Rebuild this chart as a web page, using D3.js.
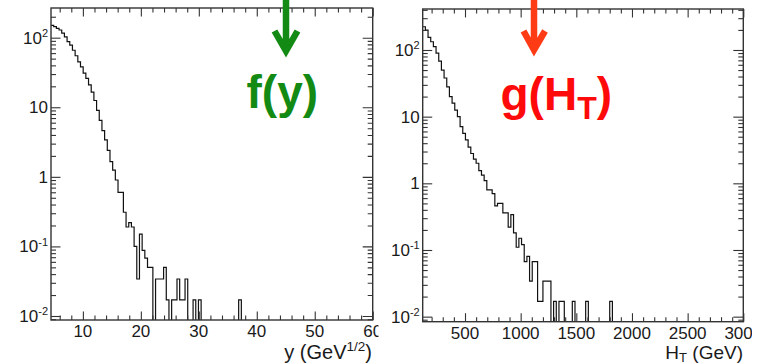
<!DOCTYPE html>
<html><head><meta charset="utf-8">
<script src="https://cdn.jsdelivr.net/npm/d3@7"></script>
<style>
body{margin:0;background:#fff}
svg{display:block}
text{font-family:"Liberation Sans",Arial,Helvetica,sans-serif}
</style>
</head><body>
<svg id="c" width="761" height="364"></svg>
<script>
// ---------- data ----------
const yTickValues = [0.01, 0.1, 1, 10, 100];
const yTickBase   = ["10", "10", "1", "10", "10"];
const yTickExp    = ["-2", "-1", "", "", "2"];

// f(y) histogram: 120 bins from 4.5 to 60 GeV^1/2
const fyBinLow = 4.5, fyBinWidth = 0.4625;
const fyValues = [
  150, 144, 136, 129, 116, 103, 88, 78, 66, 55,
  45, 38, 31, 26, 21, 16.5, 12.5, 9, 6.5, 4.6,
  3.4, 2.4, 1.65, 1.25, 0.9, 0.6, 0.6, 0.31, 0.19, 0.22,
  0.19, 0.1, 0.034, 0.15, 0.088, 0.068, 0.05, 0.05, 0, 0.034,
  0.034, 0.034, 0.05, 0.017, 0, 0.017, 0.017, 0.034, 0.017, 0.017,
  0.034, 0, 0, 0.017, 0, 0.017, 0, 0, 0, 0,
  0, 0, 0, 0, 0, 0, 0, 0, 0, 0,
  0.017, 0, 0, 0, 0, 0, 0, 0, 0, 0,
  0, 0, 0, 0, 0, 0, 0, 0, 0, 0,
  0, 0, 0, 0, 0, 0, 0, 0, 0, 0,
  0, 0, 0, 0, 0, 0, 0, 0, 0, 0,
  0, 0, 0, 0, 0, 0, 0, 0, 0, 0
];
const fyXTicks = [10, 20, 30, 40, 50, 60];
const fyXTickLabels = ["10", "20", "30", "40", "50", "60"];

// g(HT) histogram: 120 bins from 120 to 3000 GeV
const gBinLow = 120, gBinWidth = 24;
const gValues = [
  223, 199, 155, 133, 112, 90, 68, 50, 38, 28,
  20, 16, 12.5, 10, 7.1, 5.6, 4.5, 3.5, 2.8, 2.3,
  2.0, 1.55, 1.33, 1.1, 0.8, 0.8, 0.7, 0.46, 0.5, 0.5,
  0.36, 0.36, 0.22, 0.34, 0.18, 0.11, 0.15, 0.12, 0.067, 0.08,
  0.034, 0.067, 0.067, 0.017, 0.017, 0.034, 0.034, 0.034, 0, 0.017,
  0, 0.017, 0.017, 0, 0, 0, 0.017, 0, 0, 0,
  0, 0.017, 0, 0, 0, 0, 0, 0, 0, 0,
  0.017, 0, 0, 0, 0, 0, 0, 0, 0, 0,
  0, 0, 0, 0, 0, 0, 0, 0, 0, 0,
  0, 0, 0, 0, 0, 0, 0, 0, 0, 0,
  0, 0, 0, 0, 0, 0, 0, 0, 0, 0,
  0, 0, 0, 0, 0, 0, 0, 0, 0, 0
];
const gXTicks = [500, 1000, 1500, 2000, 2500, 3000];
const gXTickLabels = ["500", "1000", "1500", "2000", "2500", "3000"];

// ---------- drawing ----------
const svg = d3.select("#c");
svg.append("rect").attr("width", 761).attr("height", 364).attr("fill", "#fff");
const defs = svg.append("defs");

function drawPanel(cfg) {
  const clipId = "clip" + cfg.id, outerClip = "oclip" + cfg.id;
  defs.append("clipPath").attr("id", clipId).append("rect")
    .attr("x", cfg.x0).attr("y", cfg.y0).attr("width", cfg.x1 - cfg.x0).attr("height", cfg.y1 - cfg.y0);
  defs.append("clipPath").attr("id", outerClip).append("rect")
    .attr("x", 0).attr("y", 0).attr("width", cfg.clipRight).attr("height", 364);

  const g = svg.append("g").attr("clip-path", `url(#${outerClip})`);
  const x = d3.scaleLinear().domain(cfg.xDomain).range([cfg.x0, cfg.x1]);
  const y = d3.scaleLog().domain(cfg.yDomain).range([cfg.y1, cfg.y0]);

  // histogram
  const n = cfg.values.length;
  const pts = cfg.values.map((v, i) => [cfg.binLow + i * cfg.binWidth, v]);
  pts.push([cfg.binLow + n * cfg.binWidth, cfg.values[n - 1]]);
  const line = d3.line()
    .x(d => x(d[0]))
    .y(d => d[1] > 0 ? y(d[1]) : cfg.y1 + 1)
    .curve(d3.curveStepAfter);
  g.append("path").attr("d", line(pts))
    .attr("fill", "none").attr("stroke", "#111").attr("stroke-width", 1.2)
    .attr("clip-path", `url(#${clipId})`);

  // ticks
  const minorX = d3.range(Math.ceil(cfg.xDomain[0] / cfg.minorStep) * cfg.minorStep, cfg.xDomain[1] + 1e-9, cfg.minorStep)
    .filter(v => !cfg.xTicks.some(t => Math.abs(t - v) < 1e-9));
  const minorY = [];
  for (let e = -3; e <= 3; e++) for (let k = 2; k <= 9; k++) {
    const v = k * Math.pow(10, e);
    if (v > cfg.yDomain[0] && v < cfg.yDomain[1]) minorY.push(v);
  }
  const style = sel => {
    sel.select(".domain").remove();
    sel.selectAll("line").attr("stroke", "#333").attr("stroke-width", 1.1);
  };
  const addAxis = (axis, tx, ty) => g.append("g").attr("transform", `translate(${tx},${ty})`).call(axis).call(style);

  addAxis(d3.axisBottom(x).tickValues(cfg.xTicks).tickSize(-8.5).tickFormat(""), 0, cfg.y1);
  addAxis(d3.axisBottom(x).tickValues(minorX).tickSize(-4.5).tickFormat(""), 0, cfg.y1);
  addAxis(d3.axisTop(x).tickValues(cfg.xTicks).tickSize(-8.5).tickFormat(""), 0, cfg.y0);
  addAxis(d3.axisTop(x).tickValues(minorX).tickSize(-4.5).tickFormat(""), 0, cfg.y0);
  addAxis(d3.axisLeft(y).tickValues(yTickValues).tickSize(-9.5).tickFormat(""), cfg.x0, 0);
  addAxis(d3.axisLeft(y).tickValues(minorY).tickSize(-5).tickFormat(""), cfg.x0, 0);
  addAxis(d3.axisRight(y).tickValues(yTickValues).tickSize(-10).tickFormat(""), cfg.x1, 0);
  addAxis(d3.axisRight(y).tickValues(minorY).tickSize(-5).tickFormat(""), cfg.x1, 0);

  // frame
  g.append("rect").attr("x", cfg.x0).attr("y", cfg.y0)
    .attr("width", cfg.x1 - cfg.x0).attr("height", cfg.y1 - cfg.y0)
    .attr("fill", "none").attr("stroke", "#333").attr("stroke-width", 1.4);

  // y tick labels
  yTickValues.forEach((v, i) => {
    const t = g.append("text").attr("x", cfg.x0 - 3).attr("y", y(v) + 6)
      .attr("text-anchor", "end").attr("font-size", 17).attr("fill", "#1a1a1a");
    t.append("tspan").text(yTickBase[i]);
    if (yTickExp[i]) t.append("tspan").attr("font-size", 11).attr("dy", -6.5).text(yTickExp[i]);
  });
  // x tick labels
  cfg.xTicks.forEach((v, i) => {
    g.append("text").attr("x", x(v)).attr("y", cfg.y1 + 16.8)
      .attr("text-anchor", "middle").attr("font-size", 17).attr("fill", "#1a1a1a")
      .text(cfg.xTickLabels[i]);
  });
  return g;
}

const gl = drawPanel({
  id: "L", x0: 51, x1: 372.7, y0: 8, y1: 320, clipRight: 378.5,
  xDomain: [4.5, 60], yDomain: [0.00876, 267], minorStep: 2,
  binLow: fyBinLow, binWidth: fyBinWidth, values: fyValues,
  xTicks: fyXTicks, xTickLabels: fyXTickLabels
});
const gr = drawPanel({
  id: "R", x0: 422.7, x1: 743.3, y0: 9, y1: 321.7, clipRight: 752,
  xDomain: [120, 3000], yDomain: [0.0084, 412], minorStep: 100,
  binLow: gBinLow, binWidth: gBinWidth, values: gValues,
  xTicks: gXTicks, xTickLabels: gXTickLabels
});

// axis titles
const tl = gl.append("text").attr("x", 372).attr("y", 359).attr("text-anchor", "end")
  .attr("font-size", 20).attr("fill", "#1a1a1a");
tl.append("tspan").text("y (GeV");
tl.append("tspan").attr("font-size", 13.5).attr("dy", -8).text("1/2");
tl.append("tspan").attr("dy", 8).text(")");

const tr = svg.append("text").attr("x", 743).attr("y", 358.5).attr("text-anchor", "end")
  .attr("font-size", 19).attr("fill", "#1a1a1a");
tr.append("tspan").text("H");
tr.append("tspan").attr("font-size", 13).attr("dy", 3).text("T");
tr.append("tspan").attr("dy", -3).text(" (GeV)");

// annotations
const green = "#138a13", redArrow = "#ff3b16", red = "#ff0a0a";
svg.append("path").attr("d", "M286,-2 V50 M274.5,31 L286,51 L297.5,31")
  .attr("fill", "none").attr("stroke", green).attr("stroke-width", 6.5).attr("stroke-linejoin", "miter");
svg.append("text").attr("x", 246.5).attr("y", 108).attr("font-size", 46).attr("font-weight", "bold")
  .attr("fill", green).text("f(y)");

svg.append("path").attr("d", "M534,-2 V49 M523.5,31 L534,50 L545,31")
  .attr("fill", "none").attr("stroke", redArrow).attr("stroke-width", 6.5).attr("stroke-linejoin", "miter");
const gt = svg.append("text").attr("x", 500.5).attr("y", 110).attr("font-size", 46).attr("font-weight", "bold")
  .attr("fill", red);
gt.append("tspan").text("g(H");
gt.append("tspan").attr("font-size", 32).attr("dy", 9).text("T");
gt.append("tspan").attr("dy", -9).text(")");
</script>
</body></html>
